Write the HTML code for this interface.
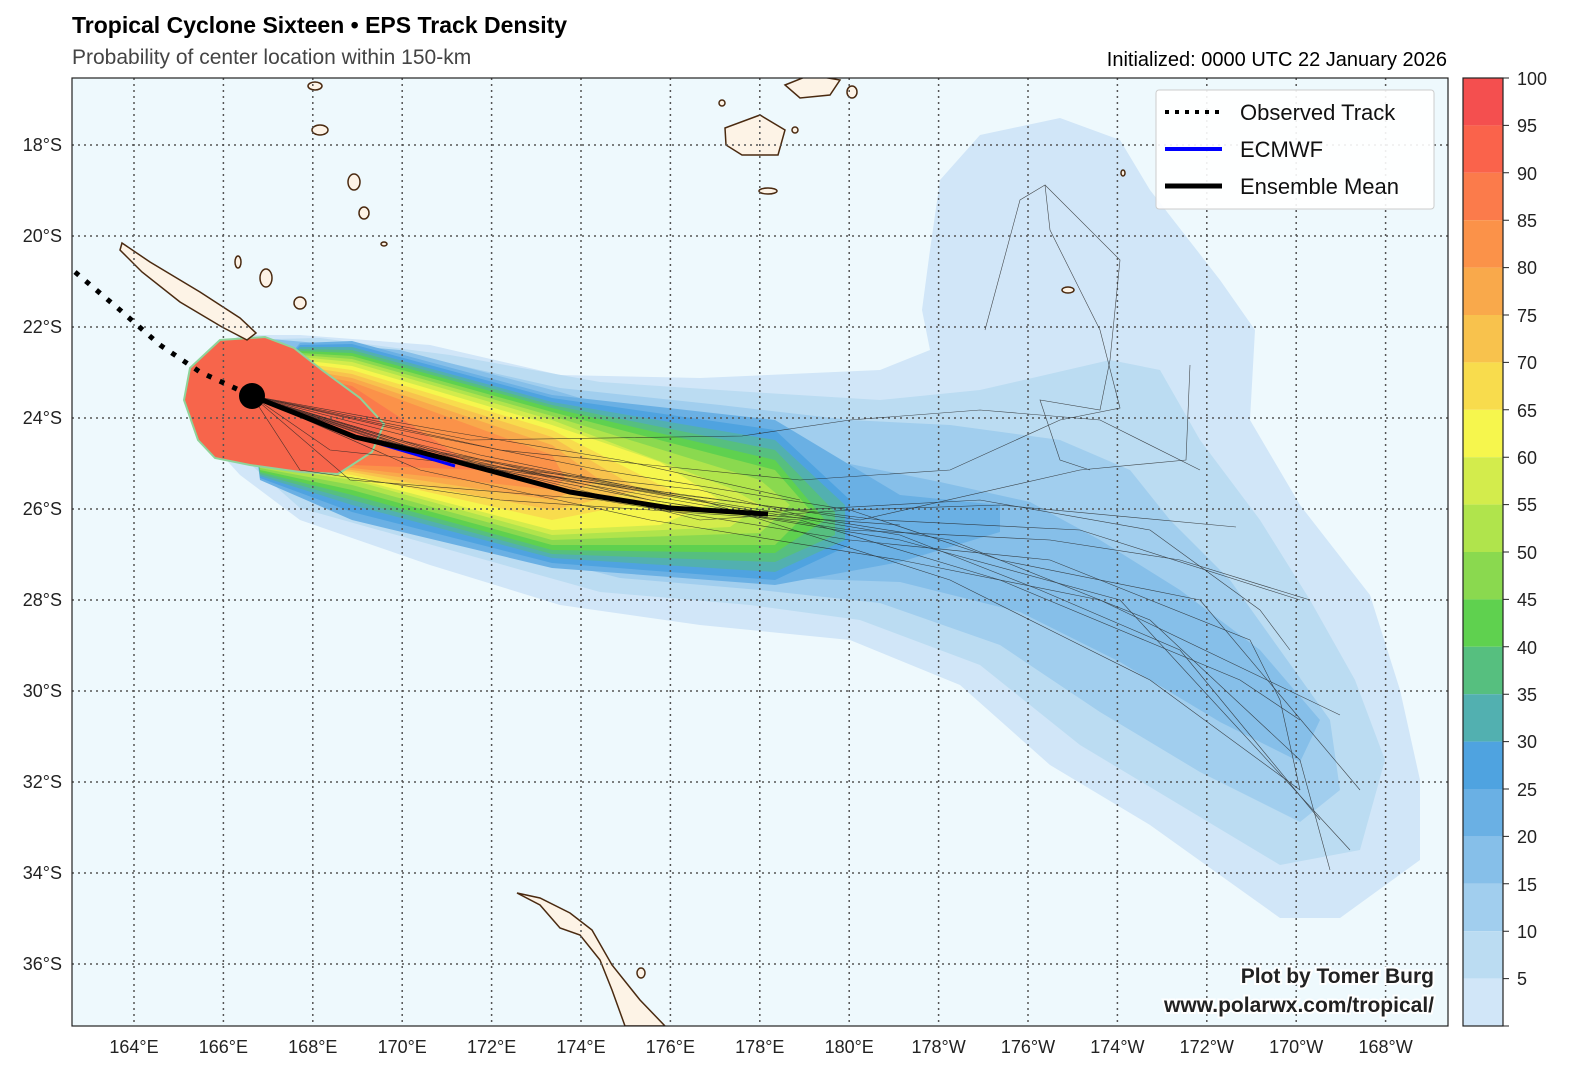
<!DOCTYPE html><html><head><meta charset="utf-8"><style>
body{margin:0;background:#fff;width:1575px;height:1076px;overflow:hidden;font-family:"Liberation Sans",sans-serif}
</style></head><body>
<svg width="1575" height="1076" xmlns="http://www.w3.org/2000/svg" font-family="Liberation Sans, sans-serif">
<text x="72" y="33" font-size="23" font-weight="bold" fill="#000">Tropical Cyclone Sixteen • EPS Track Density</text>
<text x="72" y="64" font-size="21" fill="#444">Probability of center location within 150-km</text>
<text x="1447" y="66" font-size="20" text-anchor="end" fill="#000">Initialized: 0000 UTC 22 January 2026</text>
<defs><clipPath id="c"><rect x="72" y="78" width="1376" height="948"/></clipPath></defs>
<rect x="72" y="78" width="1376" height="948" fill="#eef9fd"/>
<g clip-path="url(#c)" stroke="none">
<path fill="#d1e6f8" d="M190,420 L240,475 300,520 430,565 560,605 700,625 850,640 960,685 1050,765 1150,825 1280,918 1340,918 1420,860 1420,780 1400,690 1370,595 1300,505 1250,420 1255,330 1220,280 1150,190 1120,140 1060,118 980,135 940,180 930,250 922,310 930,350 880,370 700,378 560,375 430,345 300,335 240,335 190,370Z"/>
<path fill="#bbdcf2" d="M200,420 L300,508 450,550 600,592 750,605 860,620 980,665 1080,745 1180,805 1280,865 1360,850 1385,760 1355,680 1310,600 1260,520 1200,440 1160,370 1110,360 980,390 880,400 750,392 600,382 450,355 320,338 230,340Z"/>
<path fill="#a1ceee" d="M210,420 L320,502 470,540 620,578 760,590 880,603 1000,645 1100,712 1200,772 1300,822 1340,790 1330,720 1280,650 1230,580 1170,520 1130,470 1060,440 950,425 850,420 720,405 560,388 400,352 260,338Z"/>
<path fill="#86bfe9" d="M220,420 L340,497 500,533 650,567 780,578 900,582 1020,612 1120,662 1220,722 1300,762 1320,720 1260,650 1180,590 1100,540 1030,502 940,482 840,462 720,440 560,392 400,350 270,339Z"/>
<path fill="#6ab0e4" d="M250,400 L300,343 352,341 552,395 775,420 900,495 1000,505 1000,532 900,562 775,585 552,568 352,520 260,480Z"/>
<path fill="#4fa3e0" d="M250,400 L300,345 352,344 552,398 775,430 850,500 850,545 775,580 552,563 352,512 260,478Z"/>
<path fill="#52b0b0" d="M250,400 L300,347 352,347 552,402 775,440 845,505 845,540 775,572 552,558 352,505 260,476Z"/>
<path fill="#56bf7f" d="M250,400 L300,349 352,350 552,405 775,450 835,512 835,535 775,562 552,554 352,500 260,474Z"/>
<path fill="#5fd14f" d="M250,400 L300,351 352,353 552,408 775,460 825,520 775,553 552,550 352,495 260,472Z"/>
<path fill="#8ad94f" d="M250,400 L300,353 352,356 552,412 775,470 810,510 775,545 552,545 352,490 260,470Z"/>
<path fill="#b0e44c" d="M250,400 L300,355 352,359 552,416 760,480 790,505 760,533 552,540 352,485 260,468Z"/>
<path fill="#d3ec4c" d="M250,400 L300,357 352,362 552,420 730,488 760,505 730,527 552,535 352,480 260,466Z"/>
<path fill="#f6f64d" d="M250,400 L300,360 352,366 552,425 660,462 720,500 660,525 552,530 352,478 260,464Z"/>
<path fill="#f8dc4d" d="M250,400 L300,363 352,370 552,430 680,495 552,520 352,475 260,462Z"/>
<path fill="#f8c24d" d="M250,400 L300,366 352,374 552,437 640,490 552,510 352,472 260,460Z"/>
<path fill="#f9a94b" d="M250,400 L300,369 352,378 552,445 600,480 552,500 352,470 260,458Z"/>
<path fill="#fb9249" d="M250,400 L300,372 352,382 552,455 565,478 552,490 352,468 260,456Z"/>
<path fill="#fb7b4b" d="M250,400 L300,375 352,386 480,470 352,465 260,454Z"/>
<path fill="#f7654b" stroke="#8fd39a" stroke-width="2" d="M184,400 L198,440 215,458 250,465 300,472 338,474 372,452 384,424 360,398 322,370 294,348 265,337 220,340 190,368Z"/>
<g fill="#fdf3e6" stroke="#4a2a10" stroke-width="1.5">
<path d="M122,243 L150,262 200,292 240,318 256,333 247,340 222,327 180,302 142,272 120,250Z"/>
<path d="M517,893 L540,905 560,928 580,935 600,960 612,990 625,1026 665,1026 640,1000 612,965 592,930 570,913 540,898Z"/>
<path d="M725,128 L760,115 785,130 778,155 742,155 726,145Z"/>
<path d="M785,85 L810,75 840,80 830,95 800,98Z"/>
<ellipse cx="320" cy="130" rx="8" ry="5"/><ellipse cx="354" cy="182" rx="6" ry="8"/><ellipse cx="364" cy="213" rx="5" ry="6"/>
<ellipse cx="266" cy="278" rx="6" ry="9"/><ellipse cx="300" cy="303" rx="6" ry="6"/><ellipse cx="238" cy="262" rx="3" ry="6"/>
<ellipse cx="315" cy="86" rx="7" ry="4"/><ellipse cx="768" cy="191" rx="9" ry="3"/><ellipse cx="852" cy="92" rx="5" ry="6"/>
<ellipse cx="1068" cy="290" rx="6" ry="3"/><ellipse cx="384" cy="244" rx="3" ry="2"/><ellipse cx="722" cy="103" rx="3" ry="3"/>
<ellipse cx="795" cy="130" rx="3" ry="3"/><ellipse cx="1123" cy="173" rx="2" ry="3"/><ellipse cx="641" cy="973" rx="4" ry="5"/>
</g>
<g stroke="#555" stroke-width="1.5" stroke-dasharray="2,4" fill="none">
<path d="M134,78V1026M223.4,78V1026M312.8,78V1026M402.2,78V1026M491.6,78V1026M581,78V1026M670.4,78V1026M759.8,78V1026M849.2,78V1026M938.6,78V1026M1028,78V1026M1117.4,78V1026M1206.8,78V1026M1296.2,78V1026M1385.6,78V1026"/>
<path d="M72,145H1448M72,236H1448M72,327H1448M72,418H1448M72,509H1448M72,600H1448M72,691H1448M72,782H1448M72,873H1448M72,964H1448"/>
</g>
<g stroke="#222" stroke-width="0.6" fill="none" opacity="0.8">
<path d="M252,396 L400,430 600,470 850,510 1000,505 1236,527"/>
<path d="M252,396 L420,470 650,520 900,560 1100,600 1340,715"/>
<path d="M252,396 L450,460 700,500 950,540 1150,620 1300,760 1330,870"/>
<path d="M252,396 L400,440 650,500 900,540 1120,600 1350,850"/>
<path d="M252,396 L470,440 742,436 850,420 980,410 1100,420 1200,470"/>
<path d="M252,396 L420,450 700,520 850,510 1000,560 1200,600 1360,790"/>
<path d="M252,396 L500,470 760,505 860,520 1080,470 1186,460 1190,365"/>
<path d="M252,396 L450,455 700,500 950,580 1150,680 1300,790"/>
<path d="M252,396 L300,470 500,500 800,520 1000,580 1240,680 1300,720"/>
<path d="M252,396 L500,450 800,480 950,470 1060,420 1120,408 1100,330 1050,230 1045,185 1020,200 985,330"/>
<path d="M252,396 L350,480 600,500 850,540 1050,560 1250,640 1280,700 1300,790"/>
<path d="M252,396 L420,455 650,500 850,530 1050,540 1180,560 1310,600"/>
<path d="M252,396 L480,455 720,505 900,535 1040,590 1180,650 1320,820"/>
<path d="M252,396 L400,445 680,495 880,520 1080,530 1300,600"/>
<path d="M1045,185 L1120,260 1110,360 1100,410 1040,400 1060,460 1090,470"/>
<path d="M252,396 L460,460 760,512 980,500 1150,530 1260,610 1290,650"/>
<path d="M252,396 L380,440 560,480 760,515 900,525"/>
<path d="M252,396 L330,450 520,470 700,490 820,520"/>
<path d="M252,396 L440,430 620,460 800,500"/>
</g>
<path d="M75,272 L120,310 160,345 200,372 252,396" stroke="#000" stroke-width="5" stroke-dasharray="5,9" fill="none"/>
<path d="M252,396 L350,435 455,466" stroke="#00f" stroke-width="3" fill="none"/>
<path d="M252,396 L300,415 355,437 420,452 480,468 570,492 670,508 768,514" stroke="#000" stroke-width="5" fill="none"/>
<circle cx="252" cy="396" r="13" fill="#000"/>
<g font-weight="bold" font-size="21" text-anchor="end" fill="#222" stroke="#fff" stroke-width="4" paint-order="stroke">
<text x="1434" y="983">Plot by Tomer Burg</text><text x="1434" y="1012">www.polarwx.com/tropical/</text></g>
<rect x="1156" y="90" width="278" height="119" fill="#fff" fill-opacity="0.9" stroke="#ccc" rx="3"/>
<path d="M1165,112H1222" stroke="#000" stroke-width="4" stroke-dasharray="4,6"/>
<path d="M1165,149H1222" stroke="#00f" stroke-width="4"/>
<path d="M1165,186H1222" stroke="#000" stroke-width="5"/>
<g font-size="22" fill="#111"><text x="1240" y="120">Observed Track</text><text x="1240" y="157">ECMWF</text><text x="1240" y="194">Ensemble Mean</text></g>
</g>
<rect x="72" y="78" width="1376" height="948" fill="none" stroke="#222" stroke-width="1.2"/>
<g font-size="18" fill="#222" text-anchor="middle">
<text x="134" y="1053">164°E</text><text x="223.4" y="1053">166°E</text><text x="312.8" y="1053">168°E</text><text x="402.2" y="1053">170°E</text><text x="491.6" y="1053">172°E</text><text x="581" y="1053">174°E</text><text x="670.4" y="1053">176°E</text><text x="759.8" y="1053">178°E</text><text x="849.2" y="1053">180°E</text><text x="938.6" y="1053">178°W</text><text x="1028" y="1053">176°W</text><text x="1117.4" y="1053">174°W</text><text x="1206.8" y="1053">172°W</text><text x="1296.2" y="1053">170°W</text><text x="1385.6" y="1053">168°W</text>
</g>
<g font-size="18" fill="#222" text-anchor="end">
<text x="62" y="151">18°S</text><text x="62" y="242">20°S</text><text x="62" y="333">22°S</text><text x="62" y="424">24°S</text><text x="62" y="515">26°S</text><text x="62" y="606">28°S</text><text x="62" y="697">30°S</text><text x="62" y="788">32°S</text><text x="62" y="879">34°S</text><text x="62" y="970">36°S</text>
</g>
<g>
<rect x="1463" y="78" width="40" height="47.4" fill="#f44f4f"/><rect x="1463" y="125.4" width="40" height="47.4" fill="#fa634b"/><rect x="1463" y="172.8" width="40" height="47.4" fill="#fb7b4b"/><rect x="1463" y="220.2" width="40" height="47.4" fill="#fb9249"/><rect x="1463" y="267.6" width="40" height="47.4" fill="#f9a94b"/><rect x="1463" y="315" width="40" height="47.4" fill="#f8c24d"/><rect x="1463" y="362.4" width="40" height="47.4" fill="#f8dc4d"/><rect x="1463" y="409.8" width="40" height="47.4" fill="#f6f64d"/><rect x="1463" y="457.2" width="40" height="47.4" fill="#d3ec4c"/><rect x="1463" y="504.6" width="40" height="47.4" fill="#b0e44c"/><rect x="1463" y="552" width="40" height="47.4" fill="#8ad94f"/><rect x="1463" y="599.4" width="40" height="47.4" fill="#5fd14f"/><rect x="1463" y="646.8" width="40" height="47.4" fill="#56bf7f"/><rect x="1463" y="694.2" width="40" height="47.4" fill="#52b0b0"/><rect x="1463" y="741.6" width="40" height="47.4" fill="#4fa3e0"/><rect x="1463" y="789" width="40" height="47.4" fill="#6ab0e4"/><rect x="1463" y="836.4" width="40" height="47.4" fill="#86bfe9"/><rect x="1463" y="883.8" width="40" height="47.4" fill="#a1ceee"/><rect x="1463" y="931.2" width="40" height="47.4" fill="#bbdcf2"/><rect x="1463" y="978.6" width="40" height="47.4" fill="#d1e6f8"/>
<rect x="1463" y="78" width="40" height="948" fill="none" stroke="#222" stroke-width="1.2"/>
<g stroke="#222"><path d="M1503,78h6M1503,125.4h6M1503,172.8h6M1503,220.2h6M1503,267.6h6M1503,315h6M1503,362.4h6M1503,409.8h6M1503,457.2h6M1503,504.6h6M1503,552h6M1503,599.4h6M1503,646.8h6M1503,694.2h6M1503,741.6h6M1503,789h6M1503,836.4h6M1503,883.8h6M1503,931.2h6M1503,978.6h6M1503,1026h6"/></g>
<g font-size="18" fill="#222">
<text x="1517" y="85">100</text><text x="1517" y="132">95</text><text x="1517" y="180">90</text><text x="1517" y="227">85</text><text x="1517" y="274">80</text><text x="1517" y="322">75</text><text x="1517" y="369">70</text><text x="1517" y="417">65</text><text x="1517" y="464">60</text><text x="1517" y="511">55</text><text x="1517" y="559">50</text><text x="1517" y="606">45</text><text x="1517" y="654">40</text><text x="1517" y="701">35</text><text x="1517" y="748">30</text><text x="1517" y="796">25</text><text x="1517" y="843">20</text><text x="1517" y="891">15</text><text x="1517" y="938">10</text><text x="1517" y="985">5</text>
</g></g>
</svg>
</body></html>
